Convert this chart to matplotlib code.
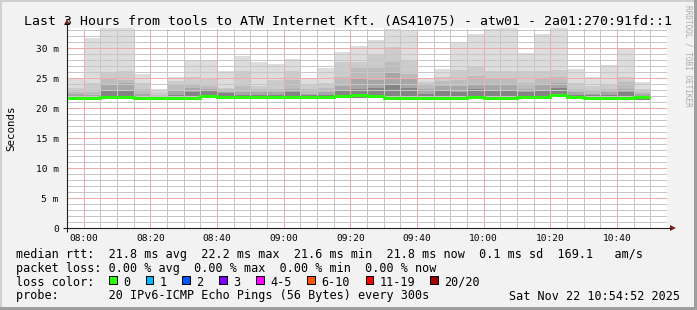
import matplotlib
matplotlib.use("Agg")
import matplotlib.pyplot as plt
import numpy as np
from matplotlib.patches import Rectangle, Polygon

# smokeping data, one value per 5 minute bin starting 07:55 (ms)
smoke_top = [24.9, 31.6, 33.4, 33.4, 25.7, 23.2, 25.2, 27.9, 28.0, 26.2, 28.6, 27.6,
             27.3, 28.2, 24.8, 26.7, 29.3, 30.3, 31.3, 33.1, 32.8, 24.8, 26.5, 30.9,
             32.4, 33.1, 33.4, 29.2, 32.3, 33.4, 26.5, 25.1, 27.2, 29.9, 24.4]
smoke_l2 = [23.3, 24.1, 26.0, 26.1, 24.1, 22.6, 24.5, 25.1, 24.9, 23.4, 26.1, 23.7,
            24.7, 26.2, 24.0, 24.1, 27.6, 27.7, 28.9, 30.2, 27.9, 24.4, 25.2, 26.4,
            26.9, 26.1, 26.2, 26.1, 26.2, 26.4, 24.1, 23.6, 24.0, 25.2, 23.1]
smoke_l3 = [22.7, 22.6, 24.9, 24.7, 23.1, 22.2, 23.8, 23.8, 23.6, 23.1, 23.7, 23.2,
            23.2, 24.7, 23.2, 23.3, 25.1, 26.6, 26.7, 27.7, 25.7, 24.0, 24.5, 24.7,
            25.3, 24.8, 24.8, 24.2, 24.8, 25.1, 23.2, 22.8, 23.2, 24.4, 22.6]
smoke_l4 = [22.3, 22.2, 23.8, 24.1, 22.3, 21.9, 23.0, 23.3, 23.2, 22.7, 22.7, 22.7,
            22.6, 23.2, 22.4, 22.6, 23.6, 24.8, 24.7, 25.8, 24.9, 23.2, 23.6, 23.7,
            23.8, 23.8, 23.8, 23.2, 23.8, 24.1, 22.6, 22.4, 22.6, 23.2, 22.3]
smoke_dark = [22.0, 21.9, 22.8, 23.0, 21.9, 21.8, 22.2, 22.7, 23.0, 22.5, 22.2, 22.2,
              22.2, 22.7, 22.1, 22.2, 22.8, 23.2, 23.3, 24.0, 23.4, 22.4, 22.8, 22.7,
              23.2, 23.0, 23.0, 22.7, 22.8, 23.3, 22.2, 22.1, 22.2, 22.6, 22.0]
smoke_low = [21.3, 21.3, 21.5, 21.5, 21.3, 21.3, 21.4, 21.4, 21.6, 21.5, 21.5, 21.5,
             21.5, 21.5, 21.5, 21.5, 21.7, 21.7, 21.7, 21.4, 21.4, 21.4, 21.4, 21.4,
             21.6, 21.4, 21.3, 21.5, 21.5, 21.8, 21.6, 21.4, 21.4, 21.4, 21.4]
median_rtt = [21.6, 21.6, 21.8, 21.8, 21.6, 21.6, 21.75, 21.75, 22.0, 21.8, 21.8, 21.8,
              21.8, 21.8, 21.8, 21.8, 22.0, 22.1, 22.0, 21.7, 21.7, 21.7, 21.7, 21.7,
              21.9, 21.7, 21.6, 21.8, 21.8, 22.2, 21.9, 21.75, 21.75, 21.75, 21.8]

time_labels = ["08:00", "08:20", "08:40", "09:00", "09:20", "09:40", "10:00", "10:20", "10:40"]
y_values = [0, 5, 10, 15, 20, 25, 30]
y_labels = ["0", "5 m", "10 m", "15 m", "20 m", "25 m", "30 m"]

loss_labels = ["0", "1", "2", "3", "4-5", "6-10", "11-19", "20/20"]
loss_colors = ["#26ff00", "#00b8ff", "#0059ff", "#7e00ff", "#ff00ff", "#ff5500", "#ff0000", "#a10000"]

title = "Last 3 Hours from tools to ATW Internet Kft. (AS41075) - atw01 - 2a01:270:91fd::1"
legend_rows = [
    "median rtt:  21.8 ms avg  22.2 ms max  21.6 ms min  21.8 ms now  0.1 ms sd  169.1   am/s",
    "packet loss: 0.00 % avg  0.00 % max  0.00 % min  0.00 % now",
    "loss color:",
    "probe:       20 IPv6-ICMP Echo Pings (56 Bytes) every 300s",
]
stamp = "Sat Nov 22 10:54:52 2025"

plt.rcParams["font.family"] = "DejaVu Sans Mono"

W, H = 697, 310
fig = plt.figure(figsize=(W / 100, H / 100), dpi=100)
fig.patch.set_facecolor("#f2f2f2")

# plot area in pixels: x 67..667, y 28..228
ax = fig.add_axes([67 / W, (H - 228) / H, 600 / W, 200 / H])
ax.set_facecolor("white")
ax.set_xlim(0, 180)
ax.set_ylim(0, 200 / 6)

x = np.arange(len(median_rtt)) * 5
low = np.array(smoke_low)
layers = [(smoke_top, "#dddddd"), (smoke_l2, "#cccccc"), (smoke_l3, "#bcbcbc"),
          (smoke_l4, "#a6a6a6"), (smoke_dark, "#848484")]
for top, col in layers:
    top = np.array(top)
    ax.bar(x, top - low, bottom=low, width=5, align="edge", color=col,
           linewidth=0, zorder=1)

edges = np.append(x, x[-1] + 5)
ax.stairs(median_rtt, edges, color="#26ff00", linewidth=2.1, baseline=None, zorder=4)

# time axis: minutes since 07:55
def minutes(lbl):
    h, m = lbl.split(":")
    return int(h) * 60 + int(m) - (7 * 60 + 55)

ax.set_xticks([minutes(t) for t in time_labels])
ax.set_xticklabels(time_labels, fontsize=6.8)
ax.set_xticks(np.arange(0, 181, 5), minor=True)
ax.set_yticks(y_values)
ax.set_yticklabels(y_labels, fontsize=6.8)
ax.set_yticks(np.arange(0, 34, 1), minor=True)
ax.tick_params(which="both", length=0)
ax.tick_params(axis="x", pad=4)
ax.tick_params(axis="y", pad=6)
ax.grid(which="minor", color="#c6c6c6", linestyle=(0, (1, 1)), linewidth=0.72,
        antialiased=False)
ax.grid(which="major", color="#f0aaaa", linestyle=(0, (1, 1)), linewidth=0.72,
        antialiased=False)
ax.set_axisbelow(False)
for s in ax.spines.values():
    s.set_visible(False)

# overlay in pixel coordinates
ov = fig.add_axes([0, 0, 1, 1], zorder=10)
ov.set_xlim(0, W)
ov.set_ylim(H, 0)
ov.axis("off")
ov.patch.set_alpha(0)

axis_col = (0.12, 0.12, 0.12)
arrow_col = (0.5, 0.12, 0.12)
ov.plot([63, 671], [228, 228], color=axis_col, lw=0.8, solid_capstyle="butt")
ov.plot([67, 67], [232, 24], color=axis_col, lw=0.8, solid_capstyle="butt")
ov.add_patch(Polygon([[676, 228], [670, 225], [670, 231]], closed=True, color=arrow_col, lw=0))
ov.add_patch(Polygon([[67, 19], [64, 25], [70, 25]], closed=True, color=arrow_col, lw=0))

# shaded frame
ov.add_patch(Rectangle((0, 0), W, 2, color="#cfcfcf", lw=0))
ov.add_patch(Rectangle((0, 0), 2, H, color="#cfcfcf", lw=0))
ov.add_patch(Rectangle((W - 3, 0), 3, H, color="#9e9e9e", lw=0))
ov.add_patch(Rectangle((0, H - 3), W, 3, color="#9e9e9e", lw=0))

ov.text(348, 24.5, title, ha="center", va="baseline", fontsize=9.55)
ov.text(11, 128, "Seconds", ha="center", va="center", rotation=90, fontsize=7.8)
ov.text(688, 5, "RRDTOOL / TOBI OETIKER", ha="center", va="top", rotation=-90,
        fontsize=5.6, color="#aaaaaa")

baselines = [258.3, 272, 285.8, 299.5]
for row, yb in zip(legend_rows, baselines):
    ov.text(16, yb, row, ha="left", va="baseline", fontsize=8.5)
ov.text(680, baselines[3], stamp, ha="right", va="baseline", fontsize=8.5)

box_x = [109, 145.7, 182.3, 219, 256, 307.3, 365.5, 430]
for bx, lbl, col in zip(box_x, loss_labels, loss_colors):
    ov.add_patch(Rectangle((bx, 276), 7.5, 7.5, facecolor=col, edgecolor="black", lw=0.72))
    ov.text(bx + 14.2, baselines[2], lbl, ha="left", va="baseline", fontsize=8.5)

fig.savefig("out.png", dpi=100, facecolor=fig.get_facecolor())
